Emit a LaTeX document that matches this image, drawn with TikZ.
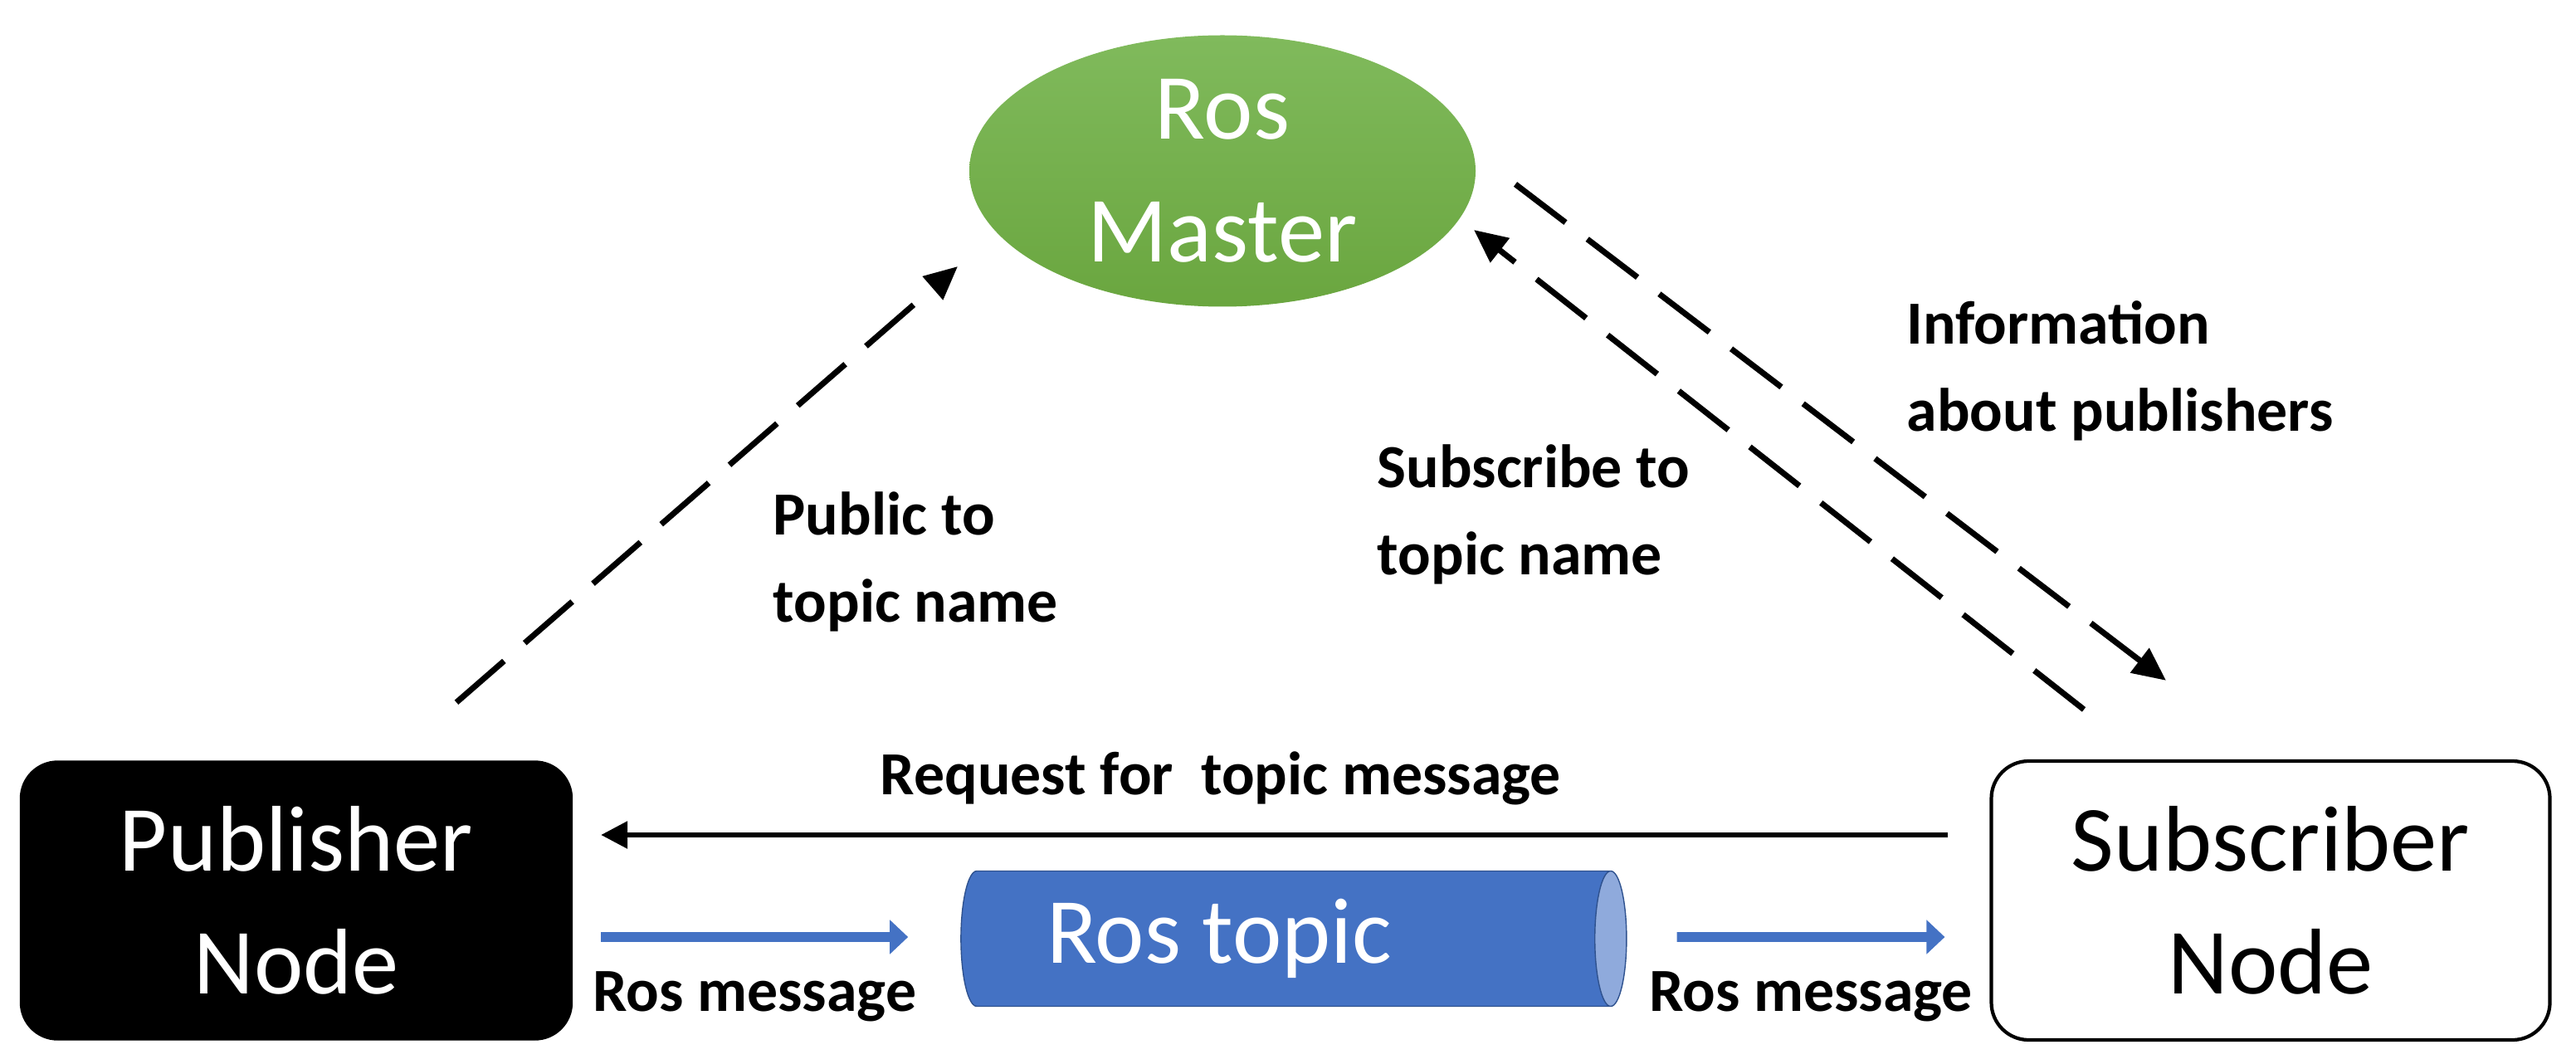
\documentclass[tikz,border=0pt]{standalone}
\usepackage{fontspec}
\setmainfont{Carlito}
\usetikzlibrary{positioning, shapes.geometric, arrows.meta, calc}
\definecolor{rosgreen}{HTML}{6AA63F}
\definecolor{rosgreenlt}{HTML}{80BA5C}
\definecolor{rosblue}{HTML}{4472C4}
\definecolor{rosbluelt}{HTML}{8FAADC}
\definecolor{rosbluedk}{HTML}{2F528F}

\begin{document}
\begin{tikzpicture}[
    big/.style={font=\fontsize{32}{42}\selectfont, align=center},
    lbl/.style={font=\bfseries\fontsize{21}{30}\selectfont, align=left, inner sep=0pt},
    dsh/.style={line width=2pt, dash pattern=on 0.76cm off 0.33cm, -{Triangle[length=0.4cm,width=0.36cm]}},
    blk/.style={line width=1.7pt, -{Triangle[length=0.32cm,width=0.32cm]}},
    bar/.style={draw=rosblue, line width=3.4pt, -{Triangle[length=0.22cm,width=0.4cm]}}]
  \useasboundingbox (0,0) rectangle (31.04,12.81);
  % nodes
  \node[big, ellipse, top color=rosgreenlt, bottom color=rosgreen, text=white, minimum width=6.1cm, minimum height=3.27cm, inner sep=0pt] (mas) at (14.73,10.75) {Ros\\Master};
  \node[big, draw=black, fill=black, text=white, rounded corners=0.45cm, minimum width=6.65cm, minimum height=3.36cm] (pub) at (3.57,1.96) {Publisher\\Node};
  \node[big, draw=black, line width=1.2pt, fill=white, rounded corners=0.45cm, minimum width=6.73cm, minimum height=3.36cm] (sub) at (27.36,1.96) {Subscriber\\Node};
  \node[big, cylinder, aspect=0.4, draw=rosbluedk, cylinder uses custom fill, cylinder body fill=rosblue, cylinder end fill=rosbluelt, text=white, minimum height=8.02cm, minimum width=1.63cm, inner sep=0pt] (tpc) at (15.49,1.50) {Ros topic\hspace*{1.6cm}};
  % connectors
  \draw[blk] ([xshift=-0.5cm,yshift=0.79cm]sub.west) -- ([xshift=0.34cm,yshift=0.79cm]pub.east)
    node[lbl, pos=0.54, above=0.33cm] (req) {Request for\ \ topic message};
  \draw[bar] ([xshift=0.34cm,yshift=-0.44cm]pub.east) -- ([xshift=-0.63cm,yshift=0.02cm]tpc.west)
    node[lbl, midway, below=0.36cm] (msg1) {Ros message};
  \draw[bar] ([xshift=0.6cm,yshift=0.02cm]tpc.east) -- ([xshift=-0.54cm,yshift=-0.44cm]sub.west)
    node[lbl, midway, below=0.36cm] (msg2) {Ros message};
  \draw[dsh] ([xshift=1.93cm,yshift=0.70cm]pub.north) -- ([xshift=-3.19cm,yshift=-1.15cm]mas.center);
  \draw[dsh] ([xshift=-2.25cm,yshift=0.60cm]sub.north) -- ([xshift=3.03cm,yshift=-0.71cm]mas.center);
  \draw[dsh] ([xshift=3.53cm,yshift=-0.16cm]mas.center) -- ([xshift=-1.26cm,yshift=0.95cm]sub.north);
  % labels
  \node[lbl, anchor=west] (pubt) at (9.31,6.04) {Public to\\topic name};
  \node[lbl, anchor=west] (subt) at (16.59,6.61) {Subscribe to\\topic name};
  \node[lbl, anchor=west] (info) at (22.97,8.34) {Information\\about publishers};
\end{tikzpicture}
\end{document}
